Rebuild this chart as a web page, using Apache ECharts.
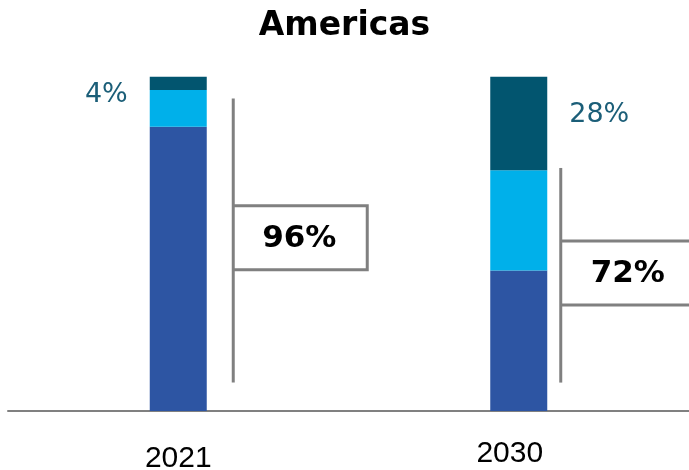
<!DOCTYPE html>
<html>
<head>
<meta charset="utf-8">
<script src="https://cdn.jsdelivr.net/npm/echarts@6/dist/echarts.min.js"></script>
<style>
  html, body { margin: 0; padding: 0; background: #ffffff; }
  #chart { width: 689px; height: 470px; }
</style>
</head>
<body>
<div id="chart"></div>
<script>
// Share of capacity by segment, Americas
const years = ['2021', '2030'];
const baseShare = [85, 42];
const midShare = [11, 30];
const topShare = [4, 28];

// Vertical extent of each bracket and the height of its label box (share %)
const bracketLow = [8.5, 8.5];
const bracketHigh = [93.5, 72.7];
const bracketMid = [51.8, 41.3];

const COLORS = { base: '#2d55a3', mid: '#00b0ea', top: '#02556f', bracket: '#808080', topLabel: '#1b5e78' };
const FONT = '"DejaVu Sans", sans-serif';

const coveredShare = years.map((_, i) => baseShare[i] + midShare[i]);

const chart = echarts.init(document.getElementById('chart'), null, { renderer: 'canvas' });

// per-bar placement of the bracket relative to the category centre
const bracketOffset = [55, 42];
const boxWidth = [134, 136];
const boxHalf = 32;

function renderBracket(params, api) {
  const i = params.dataIndex;
  const cx = api.coord([api.value(0), 0])[0] + bracketOffset[i];
  const yLow = api.coord([api.value(0), api.value(1)])[1];
  const yHigh = api.coord([api.value(0), api.value(2)])[1];
  const yMid = api.coord([api.value(0), api.value(3)])[1];
  const stroke = { stroke: COLORS.bracket, lineWidth: 3, fill: null };
  return {
    type: 'group',
    children: [
      { type: 'line', shape: { x1: cx, y1: yHigh, x2: cx, y2: yLow }, style: stroke },
      { type: 'polyline', shape: { points: [[cx, yMid - boxHalf], [cx + boxWidth[i], yMid - boxHalf], [cx + boxWidth[i], yMid + boxHalf], [cx, yMid + boxHalf]] }, style: stroke },
      { type: 'text', x: cx + boxWidth[i] / 2 - 1, y: yMid + 1, style: {
          text: api.value(4) + '%', fill: '#000000', font: 'bold 31px ' + FONT,
          align: 'center', verticalAlign: 'middle' } }
    ]
  };
}

const option = {
  animation: false,
  title: {
    text: 'Americas',
    left: 'center',
    top: 5,
    textStyle: { fontFamily: FONT, fontWeight: 'bold', fontSize: 33, color: '#000000' }
  },
  grid: { left: 8, right: 0, top: 76.7, bottom: 59, outerBoundsMode: 'none', containLabel: false },
  xAxis: {
    type: 'category',
    data: years,
    axisLine: { show: true, lineStyle: { color: '#808080', width: 2 } },
    axisTick: { show: false },
    axisLabel: {
      color: '#000000', fontFamily: '"Liberation Sans", sans-serif', fontSize: 30, margin: 30,
      lineHeight: 36,
      formatter: (v, i) => i === 1 ? '{late|' + v + '}' : '{early|' + v + '}',
      rich: {
        early: { fontFamily: '"Liberation Sans", sans-serif', fontSize: 30, lineHeight: 36, padding: [0, 0, 0, 0] },
        late: { fontFamily: '"Liberation Sans", sans-serif', fontSize: 30, lineHeight: 26, padding: [0, 18, 0, 0] }
      }
    }
  },
  yAxis: { type: 'value', min: 0, max: 100, show: false, splitLine: { show: false } },
  series: [
    { type: 'bar', stack: 'share', barWidth: 57, data: baseShare, itemStyle: { color: COLORS.base } },
    { type: 'bar', stack: 'share', data: midShare, itemStyle: { color: COLORS.mid } },
    {
      type: 'bar', stack: 'share', data: topShare.map((v, i) => ({
        value: v,
        label: {
          show: true,
          position: i === 0 ? 'left' : 'right',
          distance: 22,
          offset: i === 0 ? [0, 12] : [0, -9],
          formatter: '{c}%',
          color: COLORS.topLabel,
          fontFamily: FONT,
          fontSize: 27
        }
      })),
      itemStyle: { color: COLORS.top }
    },
    {
      type: 'custom',
      renderItem: renderBracket,
      encode: { x: 0, y: [1, 2] },
      data: years.map((y, i) => [y, bracketLow[i], bracketHigh[i], bracketMid[i], coveredShare[i]]),
      z: 5
    }
  ]
};

chart.setOption(option);
</script>
</body>
</html>
